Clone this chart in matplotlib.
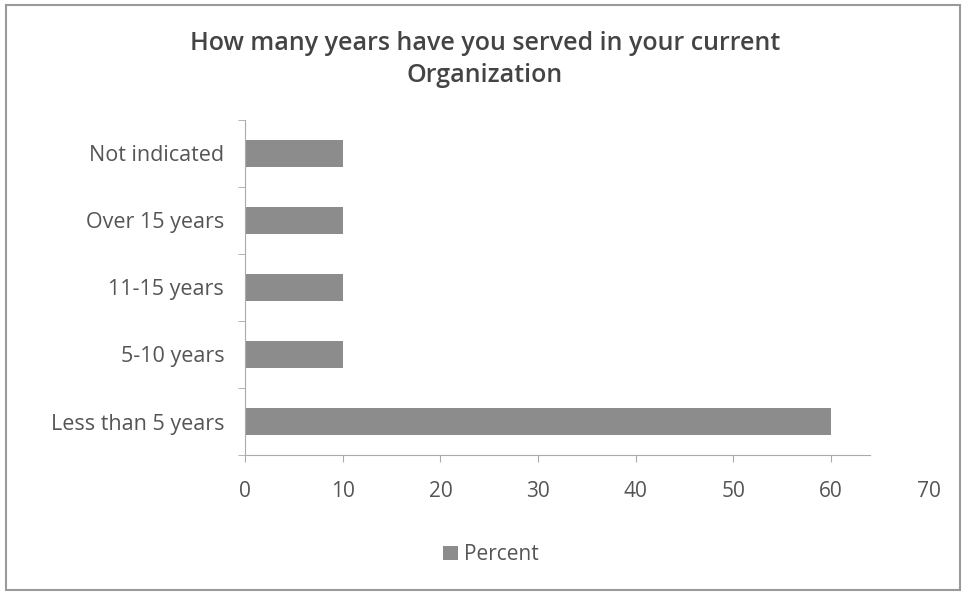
import matplotlib
matplotlib.use("Agg")
import matplotlib.pyplot as plt
from matplotlib.patches import Rectangle, Patch

categories = ["Less than 5 years", "5-10 years", "11-15 years", "Over 15 years", "Not indicated"]
percent = [60, 10, 10, 10, 10]
x_ticks = [0, 10, 20, 30, 40, 50, 60, 70]
title = "How many years have you served in your current\nOrganization"

plt.rcParams['font.family'] = ['Open Sans', 'DejaVu Sans']

fig = plt.figure(figsize=(9.66, 5.94), dpi=100)
fig.patch.set_facecolor('white')
fig.patches.append(Rectangle((0.006, 0.006), 0.988, 0.985, transform=fig.transFigure,
                             fill=False, edgecolor='#9a9a9a', linewidth=1.5))

ax = fig.add_axes([0.2536, 0.234, 0.708, 0.564])
bar_color = '#8c8c8c'
ax.barh(range(len(categories)), percent, height=0.39, color=bar_color, edgecolor='none')
ax.set_ylim(-0.5, len(categories) - 0.5)
ax.set_xlim(0, 70)
ax.set_yticks(range(len(categories)))
ax.set_yticklabels(categories, fontsize=15.5, color='#555555')
ax.set_yticks([i - 0.5 for i in range(len(categories) + 1)], minor=True)
ax.tick_params(axis='y', which='major', length=0, pad=15)
ax.tick_params(axis='y', which='minor', length=5, color='#aaaaaa', direction='out')
ax.set_xticks(x_ticks)
ax.set_xticklabels([str(t) for t in x_ticks], fontsize=15, color='#555555')
ax.tick_params(axis='x', length=5, color='#aaaaaa', direction='out', pad=14)
ax.xaxis.get_major_ticks()[-1].tick1line.set_visible(False)
for s in ['top', 'right']:
    ax.spines[s].set_visible(False)
ax.spines['left'].set_color('#aaaaaa')
ax.spines['bottom'].set_color('#aaaaaa')
ax.spines['bottom'].set_bounds(0, 64)

fig.text(0.502, 0.900, title, ha='center', va='center', fontsize=18, fontweight='semibold',
         color='#444444', linespacing=1.4)

fig.legend(handles=[Patch(facecolor=bar_color, label='Percent')], loc='center',
           bbox_to_anchor=(0.508, 0.066), frameon=False, fontsize=15, handlelength=0.7,
           handleheight=0.7, handletextpad=0.3, labelcolor='#555555')

fig.savefig('out.png', dpi=100, facecolor='white')
